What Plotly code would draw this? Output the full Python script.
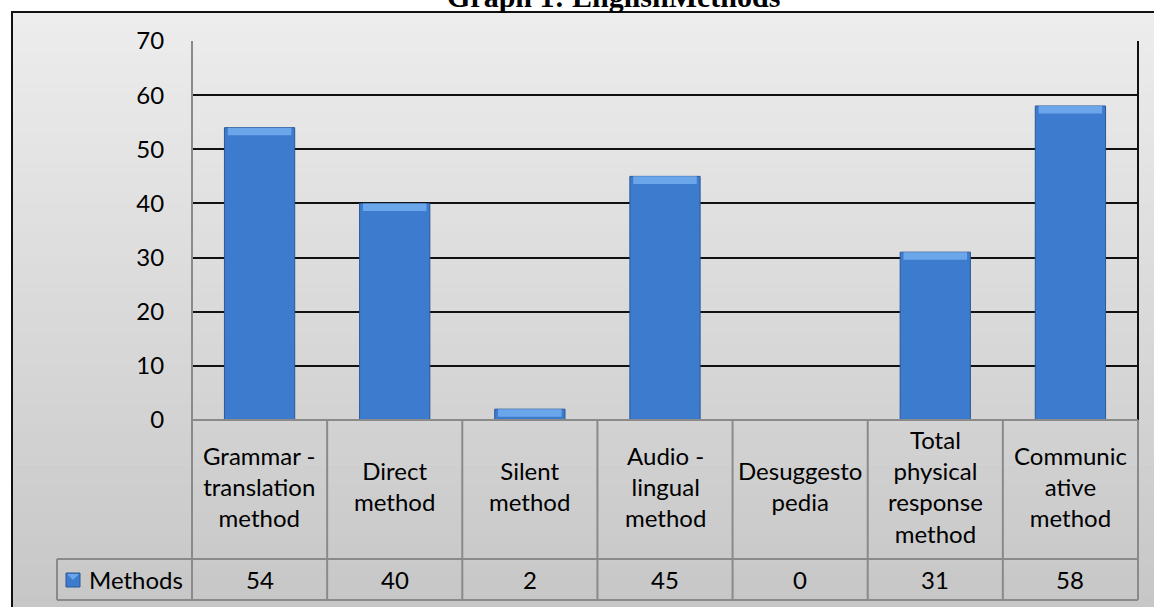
import plotly.graph_objects as go

# ---- data ----
categories = ["Grammar - translation method", "Direct method", "Silent method",
              "Audio - lingual method", "Desuggestopedia",
              "Total physical response method", "Communicative method"]
category_labels = ["Grammar -<br>translation<br>method", "Direct<br>method", "Silent<br>method",
                   "Audio -<br>lingual<br>method", "Desuggesto<br>pedia",
                   "Total<br>physical<br>response<br>method", "Communic<br>ative<br>method"]
values = [54, 40, 2, 45, 0, 31, 58]
series_name = "Methods"
y_ticks = [0, 10, 20, 30, 40, 50, 60, 70]
title_text = "Graph 1: EnglishMethods"

W, H = 1154, 607
def px(x):
    return x / W
def py(y):
    return 1 - y / H

FONT = "Lato"
FS = 24
PL, PR, PT, PB = 192, 1138, 41, 420   # plot area pixels

fig = go.Figure()

# main bars
fig.add_trace(go.Bar(
    x=categories, y=values, width=0.52, name=series_name,
    marker=dict(color="#3d7bce", line=dict(color="#2b5894", width=1)),
    hoverinfo="x+y", showlegend=False,
))
# top bevel highlight
hl = 1.4
fig.add_trace(go.Bar(
    x=categories,
    y=[min(hl, v) if v > 0 else None for v in values],
    base=[v - min(hl, v) if v > 0 else None for v in values],
    width=0.47,
    marker=dict(color="#6ca6ea", line=dict(width=0)),
    hoverinfo="skip", showlegend=False,
))

shapes = []
# background gradient frame
n = 60
top_c, bot_c = 237, 198
y0f, y1f = 12, 615
for i in range(n):
    ya = y0f + (y1f - y0f) * i / n
    yb = y0f + (y1f - y0f) * (i + 1) / n
    c = round(top_c + (bot_c - top_c) * (i + 0.5) / n)
    shapes.append(dict(type="rect", xref="paper", yref="paper", layer="below",
                       x0=px(12), x1=px(1170), y0=py(ya), y1=py(yb + 0.6),
                       fillcolor=f"rgb({c},{c},{c})", line=dict(width=0)))
# frame border
shapes.append(dict(type="rect", xref="paper", yref="paper", layer="above",
                   x0=px(12), x1=px(1170), y0=py(12), y1=py(620),
                   fillcolor="rgba(0,0,0,0)", line=dict(color="#111111", width=2)))

gray = "#8a8a8a"
def hline(x0, x1, y, color=gray, w=2):
    shapes.append(dict(type="line", xref="paper", yref="paper", layer="above",
                       x0=px(x0), x1=px(x1), y0=py(y), y1=py(y),
                       line=dict(color=color, width=w)))
def vline(x, y0, y1, color=gray, w=2):
    shapes.append(dict(type="line", xref="paper", yref="paper", layer="above",
                       x0=px(x), x1=px(x), y0=py(y0), y1=py(y1),
                       line=dict(color=color, width=w)))

# plot area edges
vline(PL, PT, PB)                      # left axis (gray)
vline(PR, PT, PB, color="#111111")     # right edge (black)
hline(PL, PR, PB)                      # zero axis / table top

# table grid
col_w = (PR - PL) / len(categories)
for i in range(len(categories) + 1):
    vline(PL + i * col_w, PB, 600)
hline(57, PR, 559)
hline(57, PR, 600)
vline(57, 559, 600)

# legend key
shapes.append(dict(type="rect", xref="paper", yref="paper", layer="above",
                   x0=px(66), x1=px(80), y0=py(587), y1=py(573),
                   fillcolor="#3d7bce", line=dict(color="#2b5894", width=1)))
shapes.append(dict(type="path", xref="paper", yref="paper", layer="above",
                   path=f"M {px(67)},{py(574)} L {px(79)},{py(574)} L {px(73)},{py(580)} Z",
                   fillcolor="#6ca6ea", line=dict(width=0)))

annotations = []
# title (partly cut off at the top, as in the source)
annotations.append(dict(text=f"<b>{title_text}</b>", xref="paper", yref="paper",
                        x=px(613), y=py(15), xanchor="center", yanchor="bottom",
                        showarrow=False,
                        font=dict(family="Liberation Serif", size=30, color="#000000")))
# category labels and values
for cat, lab, v in zip(categories, category_labels, values):
    annotations.append(dict(text=lab, xref="x", yref="paper", x=cat, y=py(486),
                            xanchor="center", yanchor="middle", showarrow=False,
                            font=dict(family=FONT, size=FS, color="#000000")))
    annotations.append(dict(text=str(v), xref="x", yref="paper", x=cat, y=py(579.5),
                            xanchor="center", yanchor="middle", showarrow=False,
                            font=dict(family=FONT, size=FS, color="#000000")))
annotations.append(dict(text=series_name, xref="paper", yref="paper", x=px(136), y=py(579.5),
                        xanchor="center", yanchor="middle", showarrow=False,
                        font=dict(family=FONT, size=FS, color="#000000")))

fig.update_layout(
    width=W, height=H, autosize=False,
    margin=dict(l=0, r=0, t=0, b=0, pad=0, autoexpand=False),
    paper_bgcolor="white",
    plot_bgcolor="rgba(0,0,0,0)",
    barmode="overlay",
    showlegend=False,
    shapes=shapes,
    annotations=annotations,
    xaxis=dict(domain=[px(PL), px(PR)], showticklabels=False, showgrid=False,
               showline=False, zeroline=False, ticks="", automargin=False),
    yaxis=dict(domain=[py(PB), py(PT)], range=[0, 70], tickvals=y_ticks,
               showgrid=True, gridcolor="#111111", gridwidth=2,
               zeroline=False, showline=False, automargin=False,
               ticks="outside", ticklen=22, tickcolor="rgba(0,0,0,0)",
               tickfont=dict(family=FONT, size=FS, color="#000000")),
)

fig.write_html("out.html")
